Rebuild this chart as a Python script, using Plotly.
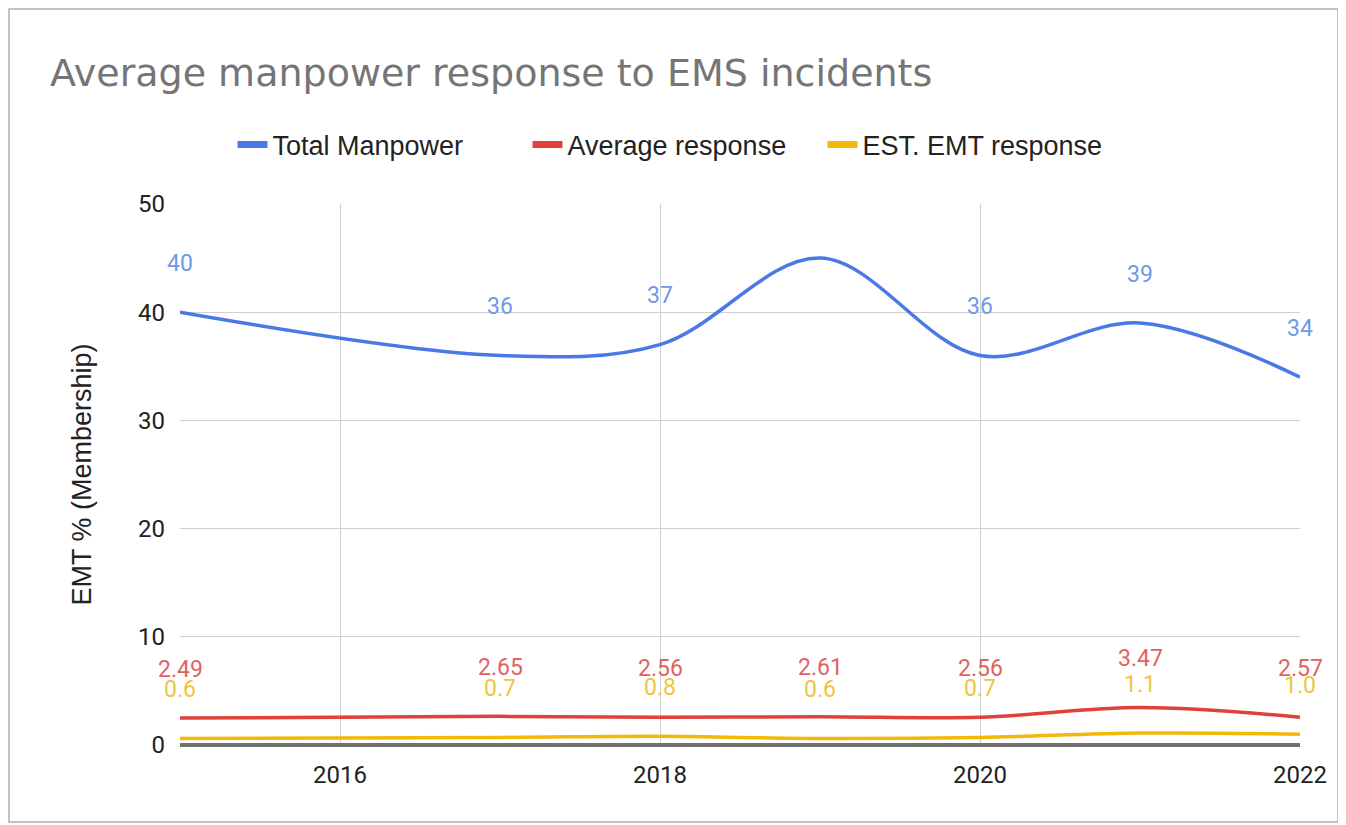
import plotly.graph_objects as go

years = [2015, 2017, 2018, 2019, 2020, 2021, 2022]
total_manpower = [40, 36, 37, 45, 36, 39, 34]
total_labels = ["40", "36", "37", "", "36", "39", "34"]
avg_response = [2.49, 2.65, 2.56, 2.61, 2.56, 3.47, 2.57]
avg_labels = ["2.49", "2.65", "2.56", "2.61", "2.56", "3.47", "2.57"]
emt_response = [0.6, 0.7, 0.8, 0.6, 0.7, 1.1, 1.0]
emt_labels = ["0.6", "0.7", "0.8", "0.6", "0.7", "1.1", "1.0"]

series = [
    ("Total Manpower", total_manpower, total_labels, "#4a78e6", "#7099e6"),
    ("Average response", avg_response, avg_labels, "#e0413a", "#e06262"),
    ("EST. EMT response", emt_response, emt_labels, "#f2b90a", "#f2c43e"),
]

fig = go.Figure()
annotations = []
for name, vals, labs, col, lcol in series:
    fig.add_trace(go.Scatter(
        x=years, y=vals, name=name, mode="lines", showlegend=False,
        line=dict(color=col, width=3.5, shape="spline", smoothing=1.0),
    ))
    for xv, yv, t in zip(years, vals, labs):
        if t:
            annotations.append(dict(
                x=xv, y=yv, text=t, showarrow=False, yshift=49,
                font=dict(family="Roboto", size=23, color=lcol),
            ))
# legend entries (short thick swatches like the reference)
for name, vals, labs, col, lcol in series:
    fig.add_trace(go.Scatter(
        x=[None], y=[None], name=name, mode="lines",
        line=dict(color=col, width=7),
    ))

W, H = 1338, 817
L, R, T, B = 172, 46, 196, 80
pw, ph = W - L - R, H - T - B

def px(xp):
    return (xp - L) / pw

def py(yp):
    return (H - B - yp) / ph

fig.update_layout(
    width=W, height=H,
    margin=dict(l=L, r=R, t=T, b=B),
    paper_bgcolor="white", plot_bgcolor="white",
    title=dict(text="Average manpower response to EMS incidents",
               x=42 / W, xanchor="left", y=1 - 65 / H, yanchor="middle",
               font=dict(family="DejaVu Sans", size=38, color="#757575")),
    legend=dict(orientation="h", x=px(667), xanchor="center", y=py(137), yanchor="middle",
                font=dict(family="Liberation Sans", size=27, color="#222"),
                itemwidth=30, tracegroupgap=0, entrywidth=250, entrywidthmode="pixels"),
    showlegend=True,
    annotations=annotations,
    shapes=[dict(type="rect", xref="paper", yref="paper",
                 x0=px(1), x1=px(1330), y0=py(814), y1=py(1),
                 line=dict(color="#b0b0b0", width=1.5), layer="below")],
)
fig.update_xaxes(range=[2015, 2022], tickvals=[2016, 2018, 2020, 2022],
                 showgrid=True, gridcolor="#cfcfcf", gridwidth=1,
                 tickfont=dict(family="Roboto", size=24, color="#222"),
                 showline=False, zeroline=False, ticks="", ticklabelstandoff=13)
fig.update_yaxes(range=[0, 50], dtick=10, showgrid=True, gridcolor="#cfcfcf",
                 tickfont=dict(family="Roboto", size=24, color="#222"),
                 zeroline=True, zerolinecolor="#707070", zerolinewidth=3.5,
                 title=dict(text="EMT % (Membership)", standoff=38,
                            font=dict(family="Liberation Sans", size=27, color="#222")),
                 ticks="", ticklabelstandoff=14)
fig.write_html("out.html")
